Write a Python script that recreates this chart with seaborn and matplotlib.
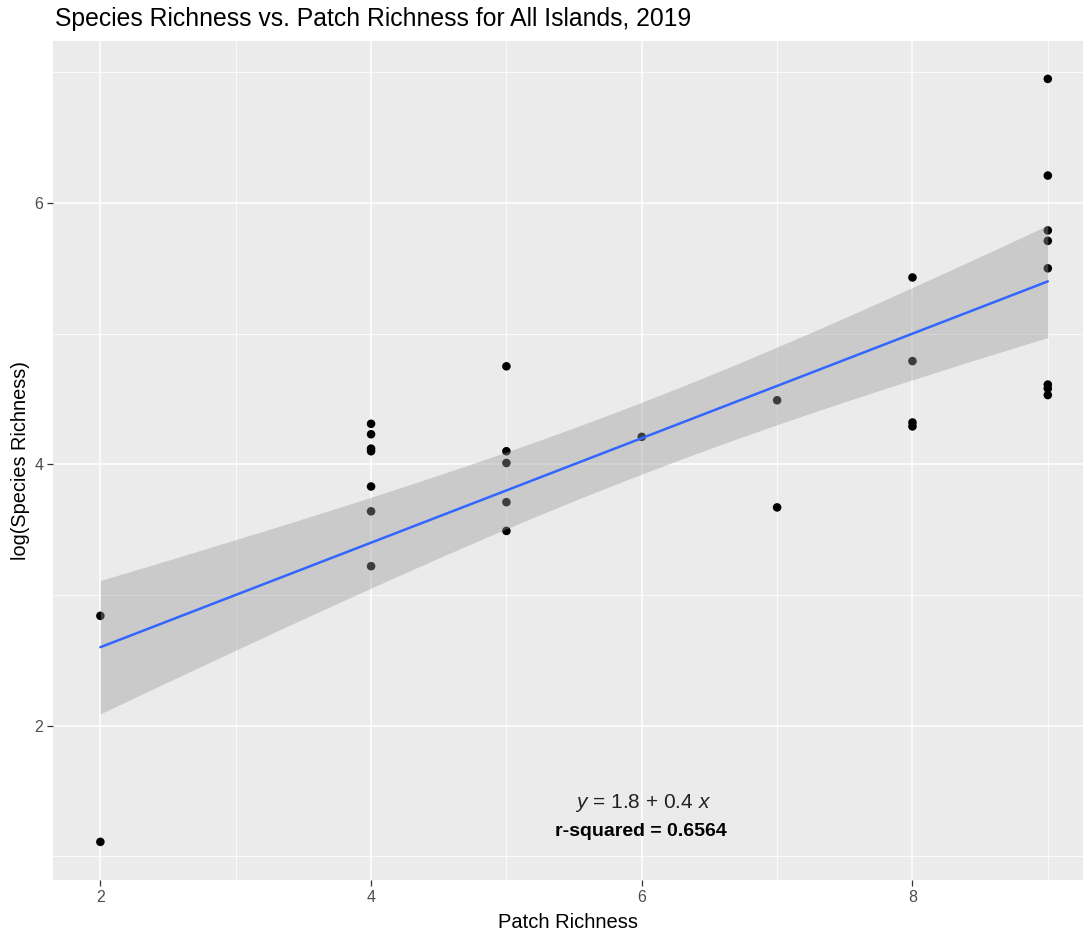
import numpy as np
import pandas as pd
import matplotlib
matplotlib.use("Agg")
import matplotlib.pyplot as plt
import seaborn as sns

# Patch richness per island and log-transformed species richness
patch_richness = [2, 2,
                  4, 4, 4, 4, 4, 4, 4,
                  5, 5, 5, 5, 5,
                  6,
                  7, 7,
                  8, 8, 8, 8,
                  9, 9, 9, 9, 9, 9, 9, 9]
log_species = [2.84, 1.11,
               4.31, 4.23, 4.12, 4.10, 3.83, 3.64, 3.22,
               4.75, 4.10, 4.01, 3.71, 3.49,
               4.21,
               4.49, 3.67,
               5.43, 4.79, 4.32, 4.29,
               6.95, 6.21, 5.79, 5.71, 5.50, 4.61, 4.58, 4.53]

# Fitted linear model and its 95% confidence band
fit_intercept = 1.8
fit_slope = 0.4
ci_center = 5.96      # x where the band is narrowest
ci_min_half = 0.275   # half-width of the band at its narrowest
ci_curvature = 0.0118 # growth of the squared half-width away from the center

eq_label = r"$\mathit{y}$ = 1.8 + 0.4 $\mathit{x}$"
r2_label = "r-squared = 0.6564"

df = pd.DataFrame({"patch": patch_richness, "logsp": log_species})

sns.set_theme(style="darkgrid")
plt.rcParams["font.family"] = ["Liberation Sans", "DejaVu Sans"]
plt.rcParams["mathtext.fontset"] = "custom"
plt.rcParams["mathtext.it"] = "Liberation Sans:italic"
plt.rcParams["mathtext.rm"] = "Liberation Sans"

fig = plt.figure(figsize=(10.86, 9.34), dpi=100)
W, H = 1086, 934
ax = fig.add_axes([53 / W, 1 - 880 / H, (1083 - 53) / W, (880 - 41) / H])
ax.set_facecolor("#EBEBEB")

# Points first so the confidence ribbon tints those it covers
sns.scatterplot(data=df, x="patch", y="logsp", color="black", s=38,
                edgecolor="none", ax=ax, zorder=3)

xs = np.linspace(min(patch_richness), max(patch_richness), 80)
fit = fit_intercept + fit_slope * xs
half = np.sqrt(ci_min_half ** 2 + ci_curvature * (xs - ci_center) ** 2)
ax.fill_between(xs, fit - half, fit + half, color="#999999", alpha=0.4,
                linewidth=0, zorder=4)
sns.lineplot(x=xs, y=fit, color="#3366FF", linewidth=1.8, ax=ax, zorder=5)

ax.text(6.01, 1.41, eq_label, ha="center", va="center", fontsize=15,
        color="#222222", zorder=6)
ax.text(5.99, 1.19, r2_label, ha="center", va="center", fontsize=14,
        fontweight="bold", color="black", zorder=6)

ax.set_xlim(1.65, 9.26)
ax.set_ylim(0.818, 7.24)
ax.set_xticks([2, 4, 6, 8])
ax.set_yticks([2, 4, 6])
ax.set_xticks([3, 5, 7, 9], minor=True)
ax.set_yticks([1, 3, 5, 7], minor=True)
ax.grid(which="major", color="white", linewidth=1.1)
ax.grid(which="minor", color="white", linewidth=0.55)
ax.set_axisbelow(True)
for sp in ax.spines.values():
    sp.set_visible(False)
ax.tick_params(which="major", length=4, width=0.9, color="#333333",
               labelcolor="#4D4D4D", labelsize=11.5, pad=3, bottom=True, left=True)
ax.tick_params(which="minor", length=0, bottom=False, left=False)

ax.set_xlabel("Patch Richness", fontsize=14.5, color="black", labelpad=6)
ax.set_ylabel("log(Species Richness)", fontsize=14.3, color="black", labelpad=3)

fig.text(55 / W, 1 - 19 / H, "Species Richness vs. Patch Richness for All Islands, 2019",
         ha="left", va="center", fontsize=17.8, color="black")

fig.savefig("out.png", dpi=100, facecolor="white")
